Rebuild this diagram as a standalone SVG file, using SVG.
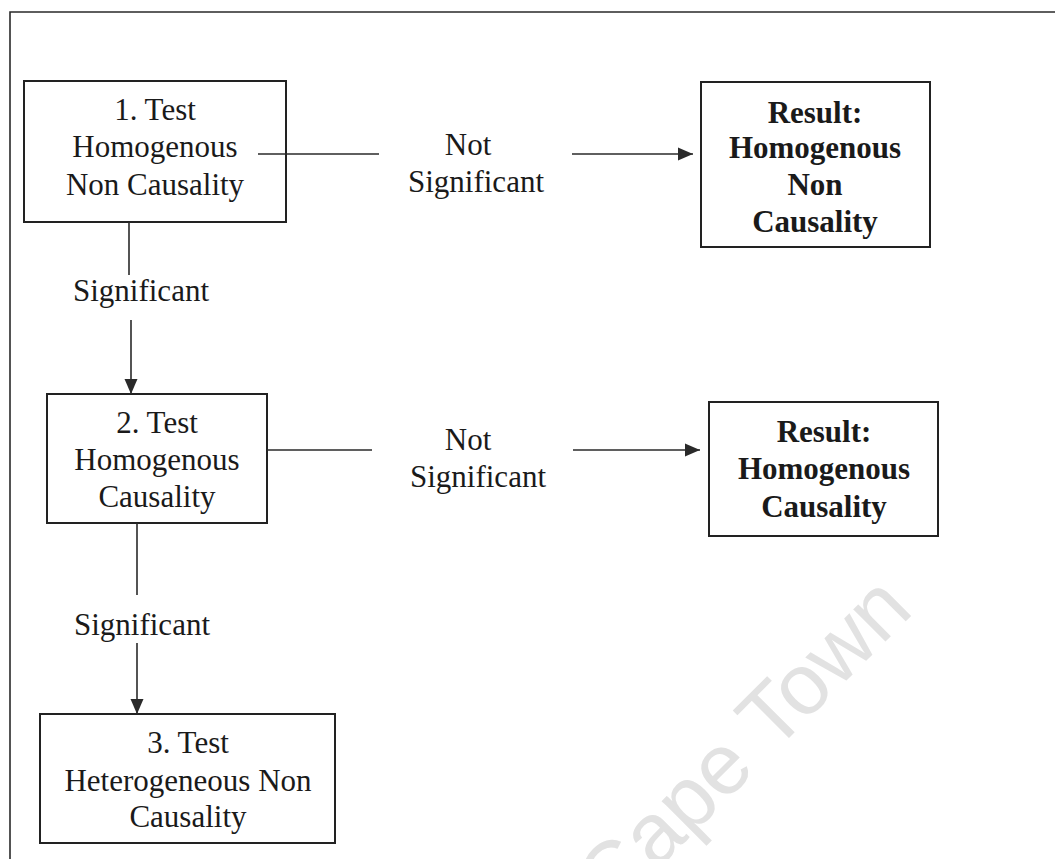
<svg xmlns="http://www.w3.org/2000/svg" width="1055" height="859" viewBox="0 0 1055 859">
<style>
.box{fill:#fff;stroke:#222;stroke-width:2}
.t{font-family:"Liberation Serif","Times New Roman",serif;font-size:31px;fill:#1a1a1a;text-anchor:middle}
.b{font-weight:bold}
.ln{stroke:#2a2a2a;stroke-width:1.6;fill:none}
.wm{font-family:"Liberation Sans",Arial,sans-serif;font-size:86px;fill:#e2e2e2}
</style>
<defs>
<marker id="ah" markerWidth="16" markerHeight="14" refX="15" refY="7" orient="auto" markerUnits="userSpaceOnUse">
<path d="M0,0.5 L15,7 L0,13.5 Z" fill="#2a2a2a"/>
</marker>
</defs>
<rect width="1055" height="859" fill="#fff"/>
<text class="wm" x="612" y="915" transform="rotate(-45 612 915)">Cape Town</text>
<g id="frame">
<path class="ln" d="M10,859 L10,12 L1055,12"/>
</g>
<g id="node1">
<rect class="box" x="24" y="81" width="262" height="141"/>
<text class="t" x="155" y="120">1. Test</text>
<text class="t" x="155" y="157">Homogenous</text>
<text class="t" x="155" y="195">Non Causality</text>
</g>
<g id="result1">
<rect class="box" x="701" y="82" width="229" height="165"/>
<text class="t b" x="815" y="123">Result:</text>
<text class="t b" x="815" y="158">Homogenous</text>
<text class="t b" x="815" y="195">Non</text>
<text class="t b" x="815" y="232">Causality</text>
</g>
<g id="node2">
<rect class="box" x="47" y="394" width="220" height="129"/>
<text class="t" x="157" y="433">2. Test</text>
<text class="t" x="157" y="470">Homogenous</text>
<text class="t" x="157" y="507">Causality</text>
</g>
<g id="result2">
<rect class="box" x="709" y="402" width="229" height="134"/>
<text class="t b" x="824" y="442">Result:</text>
<text class="t b" x="824" y="479">Homogenous</text>
<text class="t b" x="824" y="517">Causality</text>
</g>
<g id="node3">
<rect class="box" x="40" y="714" width="295" height="129"/>
<text class="t" x="188" y="753">3. Test</text>
<text class="t" x="188" y="791">Heterogeneous Non</text>
<text class="t" x="188" y="827">Causality</text>
</g>
<g id="connectors">
<line class="ln" x1="258" y1="154" x2="379" y2="154"/>
<line class="ln" x1="572" y1="154" x2="693" y2="154" marker-end="url(#ah)"/>
<text class="t" x="468" y="155">Not</text>
<text class="t" x="476" y="192">Significant</text>
<line class="ln" x1="129" y1="222" x2="129" y2="275"/>
<text class="t" x="141" y="301">Significant</text>
<line class="ln" x1="131" y1="320" x2="131" y2="394" marker-end="url(#ah)"/>
<line class="ln" x1="267" y1="450" x2="372" y2="450"/>
<line class="ln" x1="573" y1="450" x2="700" y2="450" marker-end="url(#ah)"/>
<text class="t" x="468" y="450">Not</text>
<text class="t" x="478" y="487">Significant</text>
<line class="ln" x1="137" y1="523" x2="137" y2="595"/>
<text class="t" x="142" y="635">Significant</text>
<line class="ln" x1="137" y1="643" x2="137" y2="714" marker-end="url(#ah)"/>
</g>
</svg>
